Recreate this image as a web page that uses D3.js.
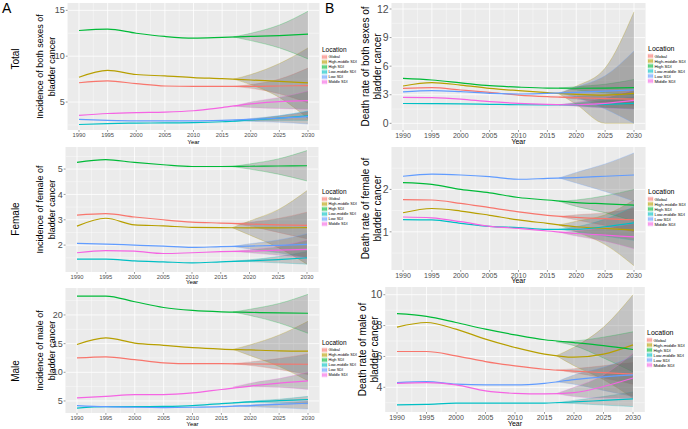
<!DOCTYPE html>
<html><head><meta charset="utf-8">
<script src="https://cdn.jsdelivr.net/npm/d3@7"></script>
<style>body{margin:0;background:#fff}svg{display:block;font-family:"Liberation Sans",Arial,sans-serif}</style>
</head><body><svg id="c" width="688" height="429"></svg>
<script>
// ---------- DATA ----------
const years = [1990, 1995, 2000, 2005, 2010, 2015, 2020, 2025, 2030];
const bandYears = [2017, 2020, 2025, 2030];
const xTickYears = [1990, 1995, 2000, 2005, 2010, 2015, 2020, 2025, 2030];
const locations = ["Global", "High-middle SDI", "High SDI", "Low-middle SDI", "Low SDI", "Middle SDI"];
const locationColors = ["#F8766D", "#B79F00", "#00BA38", "#00BFC4", "#619CFF", "#F564E3"];
const rowLabels = ["Total", "Female", "Male"];

// Total incidence
const totalIncidence = [
  [7.1, 7.3, 7.0, 6.75, 6.7, 6.7, 6.7, 6.75, 6.8],
  [7.7, 8.45, 8.0, 7.85, 7.67, 7.55, 7.4, 7.25, 7.1],
  [12.8, 12.95, 12.5, 12.15, 11.97, 12.05, 12.15, 12.25, 12.4],
  [2.55, 2.65, 2.7, 2.72, 2.75, 2.85, 3.05, 3.25, 3.5],
  [3.1, 3.0, 2.95, 2.95, 2.95, 3.0, 3.1, 3.25, 3.4],
  [3.55, 3.75, 3.85, 3.9, 4.05, 4.4, 4.8, 5.05, 5.15]
];
const totalIncidenceLower = [
  [6.7, 6.5, 5.9, 4.9], [7.5, 6.9, 5.5, 3.2], [12.1, 11.7, 10.9, 9.7],
  [2.9, 2.95, 3.0, 3.0], [3.0, 2.9, 2.8, 2.6], [4.55, 4.4, 4.3, 4.2]
];
const totalIncidenceUpper = [
  [6.7, 6.9, 7.5, 8.7], [7.5, 8.0, 9.2, 10.9], [12.1, 12.5, 13.4, 14.9],
  [2.9, 3.1, 3.5, 4.0], [3.0, 3.2, 3.5, 4.0], [4.55, 5.0, 5.5, 6.2]
];
const totalIncidenceTicks = [5, 10, 15];

// Total death
const totalDeath = [
  [3.67, 3.74, 3.5, 3.25, 2.97, 2.8, 2.7, 2.6, 2.55],
  [3.92, 4.27, 4.02, 3.67, 3.43, 3.22, 3.04, 2.97, 3.15],
  [4.72, 4.55, 4.25, 3.95, 3.8, 3.7, 3.68, 3.7, 3.75],
  [2.08, 2.07, 2.05, 2.0, 1.95, 1.93, 1.95, 2.0, 2.1],
  [3.3, 3.43, 3.32, 3.15, 3.08, 3.15, 3.25, 3.38, 3.5],
  [2.73, 2.7, 2.55, 2.27, 2.1, 2.0, 1.95, 2.1, 2.4]
];
const totalDeathLower = [
  [2.75, 2.55, 2.2, 1.9], [3.1, 2.0, 0, 0], [3.7, 3.5, 3.2, 3.0],
  [1.95, 1.85, 1.65, 1.5], [3.2, 2.7, 1.5, 0], [1.95, 1.8, 1.6, 1.5]
];
const totalDeathUpper = [
  [2.75, 2.85, 3.0, 3.2], [3.1, 3.9, 5.8, 11.7], [3.7, 3.85, 4.1, 4.6],
  [1.95, 2.1, 2.4, 2.8], [3.2, 3.8, 5.0, 7.6], [1.95, 2.2, 2.7, 3.5]
];
const totalDeathTicks = [0, 3, 6, 9, 12];

// Female incidence
const femaleIncidence = [
  [3.18, 3.24, 3.11, 3.0, 2.91, 2.87, 2.83, 2.8, 2.78],
  [2.75, 3.06, 2.8, 2.76, 2.7, 2.69, 2.68, 2.68, 2.69],
  [5.26, 5.37, 5.26, 5.17, 5.1, 5.1, 5.11, 5.12, 5.13],
  [1.45, 1.45, 1.38, 1.34, 1.3, 1.34, 1.38, 1.43, 1.5],
  [2.07, 2.04, 2.0, 1.96, 1.91, 1.94, 1.96, 1.99, 2.03],
  [1.7, 1.78, 1.76, 1.67, 1.7, 1.74, 1.76, 1.8, 1.83]
];
const femaleIncidenceLower = [
  [2.85, 2.75, 2.5, 2.25], [2.69, 2.4, 1.9, 1.25], [5.1, 5.0, 4.8, 4.53],
  [1.36, 1.35, 1.3, 1.25], [1.95, 1.85, 1.7, 1.5], [1.75, 1.7, 1.6, 1.5]
];
const femaleIncidenceUpper = [
  [2.85, 2.9, 3.05, 3.3], [2.69, 2.95, 3.4, 4.15], [5.1, 5.2, 5.4, 5.73],
  [1.36, 1.42, 1.55, 1.75], [1.95, 2.05, 2.2, 2.45], [1.75, 1.82, 1.95, 2.2]
];
const femaleIncidenceTicks = [2, 3, 4, 5];

// Female death
const femaleDeath = [
  [1.76, 1.75, 1.67, 1.57, 1.47, 1.39, 1.34, 1.31, 1.28],
  [1.45, 1.55, 1.49, 1.39, 1.28, 1.2, 1.12, 1.08, 1.04],
  [2.16, 2.12, 2.0, 1.92, 1.81, 1.75, 1.69, 1.66, 1.63],
  [1.29, 1.28, 1.2, 1.13, 1.1, 1.06, 1.06, 1.12, 1.21],
  [2.31, 2.36, 2.34, 2.3, 2.24, 2.26, 2.28, 2.31, 2.34],
  [1.35, 1.33, 1.24, 1.13, 1.08, 1.02, 0.96, 0.92, 0.88]
];
const femaleDeathLower = [
  [1.36, 1.28, 1.15, 1.0], [1.16, 1.0, 0.7, 0.2], [1.72, 1.6, 1.45, 1.25],
  [1.06, 1.0, 0.9, 0.8], [2.27, 2.15, 1.95, 1.72], [0.99, 0.9, 0.78, 0.6]
];
const femaleDeathUpper = [
  [1.36, 1.4, 1.45, 1.55], [1.16, 1.25, 1.4, 1.75], [1.72, 1.75, 1.85, 2.0],
  [1.06, 1.12, 1.3, 1.6], [2.27, 2.4, 2.6, 2.86], [0.99, 1.02, 1.1, 1.2]
];
const femaleDeathTicks = [1, 2];

// Male incidence
const maleIncidence = [
  [12.5, 12.7, 12.2, 11.65, 11.5, 11.5, 11.45, 11.42, 11.4],
  [14.85, 16.0, 15.1, 14.7, 14.3, 14.05, 13.9, 13.75, 13.7],
  [23.3, 23.3, 22.3, 21.3, 20.8, 20.55, 20.45, 20.35, 20.3],
  [3.75, 4.0, 4.0, 4.05, 4.2, 4.55, 4.85, 5.05, 5.25],
  [4.2, 4.0, 3.9, 3.85, 3.9, 4.0, 4.2, 4.4, 4.6],
  [5.55, 5.8, 6.1, 6.1, 6.4, 7.0, 7.6, 8.1, 8.5]
];
const maleIncidenceLower = [
  [11.5, 11.2, 10.5, 9.6], [14.0, 12.9, 11.0, 8.5], [20.5, 19.9, 18.6, 16.8],
  [4.7, 4.75, 4.7, 4.5], [4.1, 4.0, 3.8, 3.6], [7.4, 7.5, 7.4, 7.0]
];
const maleIncidenceUpper = [
  [11.5, 11.8, 12.4, 13.2], [14.0, 14.8, 16.5, 18.9], [20.5, 21.0, 22.0, 23.6],
  [4.7, 4.95, 5.3, 5.8], [4.1, 4.3, 4.6, 5.0], [7.4, 8.1, 8.9, 10.0]
];
const maleIncidenceTicks = [5, 10, 15, 20];

// Male death
const maleDeath = [
  [6.32, 6.32, 6.04, 5.67, 5.39, 5.17, 5.05, 4.95, 4.85],
  [7.9, 8.2, 7.77, 7.12, 6.58, 6.15, 5.95, 6.15, 6.75],
  [8.77, 8.6, 8.2, 7.77, 7.4, 7.08, 6.9, 6.7, 6.45],
  [2.86, 2.9, 2.97, 2.97, 2.97, 2.98, 3.05, 3.15, 3.25],
  [4.3, 4.37, 4.2, 4.16, 4.16, 4.26, 4.5, 4.68, 4.8],
  [4.26, 4.3, 4.16, 3.77, 3.61, 3.57, 3.66, 4.05, 4.6]
];
const maleDeathLower = [
  [5.12, 4.95, 4.6, 4.2], [6.05, 5.4, 4.5, 3.3], [6.95, 6.7, 5.9, 5.0],
  [3.0, 2.95, 2.85, 2.75], [4.35, 4.2, 3.8, 3.4], [3.6, 3.4, 3.3, 3.3]
];
const maleDeathUpper = [
  [5.12, 5.2, 5.4, 5.6], [6.05, 6.6, 7.9, 10.0], [6.95, 7.0, 7.25, 7.6],
  [3.0, 3.15, 3.4, 3.7], [4.35, 4.8, 5.3, 6.0], [3.6, 4.0, 4.8, 6.2]
];
const maleDeathTicks = [4, 6, 8, 10];

// ---------- LAYOUT ----------
const A = {x1990: 79, x2030: 308, tickFont: 9, xTickFont: 5.8, titleFont: 9, yearFont: 6, titleX: [40, 52],
           legX: 322, legFont: 3.9, legTitleFont: 6.5};
const B = {x1990: 403, x2030: 634, tickFont: 10.5, xTickFont: 7, titleFont: 10, yearFont: 7, titleX: [365, 377],
           legX: 648, legFont: 4.3, legTitleFont: 7};

const panels = [
  Object.assign({}, A, {vals: totalIncidence, lo: totalIncidenceLower, hi: totalIncidenceUpper, ticks: totalIncidenceTicks,
    dom: [1.95, 15.8], top: 3, bottom: 130, yearY: 142, legY: 50,
    title: ["Incidence of both sexes of", "bladder cancer"]}),
  Object.assign({}, B, {vals: totalDeath, lo: totalDeathLower, hi: totalDeathUpper, ticks: totalDeathTicks,
    dom: [-0.7, 12.63], top: 3, bottom: 130, yearY: 142, legY: 49,
    title: ["Death rate of both sexes of", "bladder cancer"]}),
  Object.assign({}, A, {x1990: 77, x2030: 307, vals: femaleIncidence, lo: femaleIncidenceLower, hi: femaleIncidenceUpper, ticks: femaleIncidenceTicks,
    dom: [0.94, 5.87], top: 147, bottom: 272, yearY: 282, legY: 192,
    title: ["Incidence of female of", "bladder cancer"]}),
  Object.assign({}, B, {vals: femaleDeath, lo: femaleDeathLower, hi: femaleDeathUpper, ticks: femaleDeathTicks,
    dom: [0.1, 3.0], top: 147, bottom: 270, yearY: 281, legY: 192,
    title: ["Death rate of female of", "bladder cancer"]}),
  Object.assign({}, A, {x1990: 77, x2030: 308, vals: maleIncidence, lo: maleIncidenceLower, hi: maleIncidenceUpper, ticks: maleIncidenceTicks,
    dom: [2.9, 24.7], top: 288, bottom: 413, yearY: 424, legY: 343,
    title: ["Incidence of male of", "bladder cancer"]}),
  Object.assign({}, B, {x1990: 397, x2030: 633, vals: maleDeath, lo: maleDeathLower, hi: maleDeathUpper, ticks: maleDeathTicks,
    dom: [2.4, 10.5], top: 287, bottom: 412, yearY: 424, legY: 333, legX: 647, titleX: [362, 374],
    title: ["Death rate of male of", "bladder cancer"]})
];

const svg = d3.select("#c");
svg.append("rect").attr("width", 688).attr("height", 429).attr("fill", "#fff");

panels.forEach((p, i) => {
  const x = d3.scaleLinear().domain([1990, 2030]).range([p.x1990, p.x2030]);
  const left = x(1988), right = x(2032);
  const y = d3.scaleLinear().domain(p.dom).range([p.bottom, p.top]);
  const g = svg.append("g");
  const cid = "clip" + i;
  svg.append("clipPath").attr("id", cid).append("rect")
    .attr("x", left).attr("y", p.top).attr("width", right - left).attr("height", p.bottom - p.top);

  g.append("rect").attr("x", left).attr("y", p.top).attr("width", right - left).attr("height", p.bottom - p.top)
    .attr("fill", "#EBEBEB");

  // grid
  const grid = g.append("g").attr("clip-path", `url(#${cid})`);
  const xMinor = d3.range(1987.5, 2033, 5);
  grid.selectAll(".xm").data(xMinor).join("line").attr("x1", d => x(d)).attr("x2", d => x(d))
    .attr("y1", p.top).attr("y2", p.bottom).attr("stroke", "#fff").attr("stroke-width", 0.4);
  const step = p.ticks[1] - p.ticks[0];
  const yMinorF = d3.range(-3, p.ticks.length + 3).map(k => p.ticks[0] + step / 2 + k * step)
    .filter(v => v > p.dom[0] && v < p.dom[1]);
  grid.selectAll(".ym").data(yMinorF).join("line").attr("x1", left).attr("x2", right)
    .attr("y1", d => y(d)).attr("y2", d => y(d)).attr("stroke", "#fff").attr("stroke-width", 0.4);
  grid.selectAll(".xM").data(xTickYears).join("line").attr("x1", d => x(d)).attr("x2", d => x(d))
    .attr("y1", p.top).attr("y2", p.bottom).attr("stroke", "#fff").attr("stroke-width", 0.8);
  grid.selectAll(".yM").data(p.ticks).join("line").attr("x1", left).attr("x2", right)
    .attr("y1", d => y(d)).attr("y2", d => y(d)).attr("stroke", "#fff").attr("stroke-width", 0.8);

  const plot = g.append("g").attr("clip-path", `url(#${cid})`);
  // bands
  const area = d3.area().x(d => x(d.yr)).y0(d => y(d.lo)).y1(d => y(d.hi)).curve(d3.curveMonotoneX);
  const lineB = d3.line().x(d => x(d.yr)).y(d => y(d.v)).curve(d3.curveMonotoneX);
  locations.forEach((loc, k) => {
    const bd = bandYears.map((yr, j) => ({yr, lo: p.lo[k][j], hi: p.hi[k][j]}));
    plot.append("path").attr("d", area(bd)).attr("fill", "#666").attr("fill-opacity", 0.3);
    plot.append("path").attr("d", lineB(bd.map(d => ({yr: d.yr, v: d.lo})))).attr("fill", "none")
      .attr("stroke", locationColors[k]).attr("stroke-opacity", 0.45).attr("stroke-width", 0.6);
    plot.append("path").attr("d", lineB(bd.map(d => ({yr: d.yr, v: d.hi})))).attr("fill", "none")
      .attr("stroke", locationColors[k]).attr("stroke-opacity", 0.45).attr("stroke-width", 0.6);
  });
  // lines
  const line = d3.line().x(d => x(d.yr)).y(d => y(d.v)).curve(d3.curveMonotoneX);
  locations.forEach((loc, k) => {
    const ld = years.map((yr, j) => ({yr, v: p.vals[k][j]}));
    plot.append("path").attr("d", line(ld)).attr("fill", "none")
      .attr("stroke", locationColors[k]).attr("stroke-width", 1.2);
  });

  // axes
  const ax = g.append("g");
  ax.selectAll(".xt").data(xTickYears).join("line").attr("x1", d => x(d)).attr("x2", d => x(d))
    .attr("y1", p.bottom).attr("y2", p.bottom + 1.8).attr("stroke", "#333").attr("stroke-width", 0.5);
  ax.selectAll(".xl").data(xTickYears).join("text").attr("x", d => x(d)).attr("y", p.bottom + 2.5 + p.xTickFont * 0.75)
    .attr("text-anchor", "middle").attr("font-size", p.xTickFont).attr("fill", "#4D4D4D").text(d => d);
  ax.selectAll(".yt").data(p.ticks).join("line").attr("x1", left - 1.8).attr("x2", left)
    .attr("y1", d => y(d)).attr("y2", d => y(d)).attr("stroke", "#333").attr("stroke-width", 0.5);
  ax.selectAll(".yl").data(p.ticks).join("text").attr("x", left - 2.8).attr("y", d => y(d))
    .attr("dy", "0.35em").attr("text-anchor", "end").attr("font-size", p.tickFont).attr("fill", "#4D4D4D").text(d => d);
  // titles
  g.append("text").attr("x", (left + right) / 2).attr("y", p.yearY).attr("dy", "0.35em").attr("text-anchor", "middle")
    .attr("font-size", p.yearFont).attr("fill", "#000").text("Year");
  const cy = (p.top + p.bottom) / 2;
  p.title.forEach((t, j) => {
    g.append("text").attr("transform", `translate(${p.titleX[j]},${cy}) rotate(-90)`)
      .attr("text-anchor", "middle").attr("dominant-baseline", "central")
      .attr("font-size", p.titleFont).attr("fill", "#000").text(t);
  });
  // legend
  const lg = g.append("g");
  lg.append("text").attr("x", p.legX).attr("y", p.legY).attr("dy", "0.35em").attr("font-size", p.legTitleFont).text("Location");
  locations.forEach((loc, k) => {
    const yy = p.legY + 7 + k * 5;
    lg.append("rect").attr("x", p.legX).attr("y", yy - 2).attr("width", 5).attr("height", 4)
      .attr("fill", locationColors[k]).attr("fill-opacity", 0.35)
      .attr("stroke", locationColors[k]).attr("stroke-opacity", 0.5).attr("stroke-width", 0.4);
    lg.append("line").attr("x1", p.legX).attr("x2", p.legX + 5).attr("y1", yy).attr("y2", yy)
      .attr("stroke", locationColors[k]).attr("stroke-width", 0.8);
    lg.append("text").attr("x", p.legX + 6.5).attr("y", yy).attr("dy", "0.35em")
      .attr("font-size", p.legFont).attr("fill", "#000").text(loc);
  });
});

// row labels and panel letters
const rowY = [59, 219, 371];
svg.selectAll(".row").data(rowLabels).join("text")
  .attr("transform", (d, i) => `translate(15,${rowY[i]}) rotate(-90)`)
  .attr("text-anchor", "middle").attr("dominant-baseline", "central").attr("font-size", 10).text(d => d);
svg.append("text").attr("x", 2).attr("y", 13).attr("font-size", 14).text("A");
svg.append("text").attr("x", 325).attr("y", 13).attr("font-size", 14).text("B");
</script></body></html>
